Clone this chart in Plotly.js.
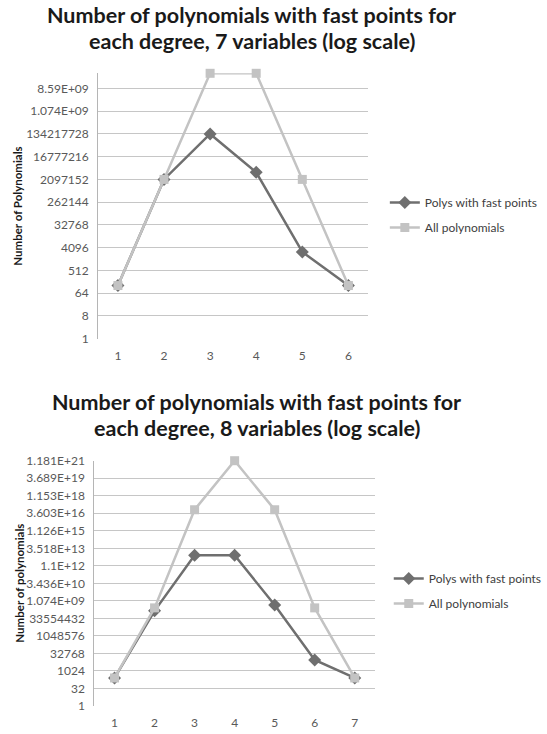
<!DOCTYPE html>
<html>
<head>
<meta charset="utf-8">
<script src="https://cdn.plot.ly/plotly-3.0.1.min.js"></script>
<style>html,body{margin:0;padding:0;background:#fff;}#chart{width:547px;height:734px;}</style>
</head>
<body>
<div id="chart"></div>
<script>
// ---- Data ----
const degrees7 = ["1", "2", "3", "4", "5", "6"];
const fast7 = [128, 2097152, 134217728, 4000000, 2760, 128];
const all7 = [128, 2097152, 34359738368, 34359738368, 2097152, 128];
const tickVals7 = [1, 8, 64, 512, 4096, 32768, 262144, 2097152, 16777216, 134217728, 1073741824, 8589934592];
const tickText7 = ["1", "8", "64", "512", "4096", "32768", "262144", "2097152", "16777216", "134217728", "1.074E+09", "8.59E+09"];

const degrees8 = ["1", "2", "3", "4", "5", "6", "7"];
const fast8 = [256, 150000000, 8.8e12, 8.8e12, 4.7e8, 9000, 256];
const all8 = [256, 268435456, 7.2057594e16, 1.1805916e21, 7.2057594e16, 268435456, 256];
const tickVals8 = [1, 32, 1024, 32768, 1048576, 33554432, 1073741824, 34359738368, 1.0995116e12, 3.5184372e13, 1.1258999e15, 3.6028797e16, 1.1529215e18, 3.6893488e19, 1.1805916e21];
const tickText8 = ["1", "32", "1024", "32768", "1048576", "33554432", "1.074E+09", "3.436E+10", "1.1E+12", "3.518E+13", "1.126E+15", "3.603E+16", "1.153E+18", "3.689E+19", "1.181E+21"];

const seriesNames = ["Polys with fast points", "All polynomials"];

// ---- Styling ----
const W = 547, H = 734;
const px = v => v / W;
const py = v => 1 - v / H;
const FONT = "Lato, 'Open Sans', sans-serif";
const darkCol = "#6f6f6f";
const lightCol = "#c3c3c3";
const gridCol = "#c6c6c6";
const tickCol = "#595959";

function series(x, y, i, xa, ya, leg, grp) {
  return {
    type: "scatter", mode: "lines+markers", x: x, y: y,
    name: seriesNames[i], xaxis: xa, yaxis: ya, legend: leg,
    legendgroup: grp + i, cliponaxis: false,
    line: {color: i === 0 ? darkCol : lightCol, width: 2.5},
    marker: i === 0 ? {symbol: "diamond", size: 10, color: darkCol}
                    : {symbol: "square", size: 9, color: lightCol}
  };
}

const data = [
  series(degrees7, fast7, 0, "x", "y", "legend", "a"),
  series(degrees7, all7, 1, "x", "y", "legend", "a"),
  series(degrees8, fast8, 0, "x2", "y2", "legend2", "b"),
  series(degrees8, all8, 1, "x2", "y2", "legend2", "b")
];

const xaxisBase = {
  type: "category", showgrid: false, zeroline: false,
  showline: false, ticks: "", ticklabelstandoff: 8,
  tickfont: {family: FONT, size: 12, color: tickCol}
};
const yaxisBase = {
  type: "log", tickmode: "array", showgrid: true, gridcolor: gridCol, gridwidth: 1,
  zeroline: false, showline: true, linecolor: "#b5b5b5", linewidth: 1, ticks: "",
  tickfont: {family: FONT, size: 12, color: tickCol}, ticklabelstandoff: 6
};

const legendBase = {
  font: {family: FONT, size: 12, color: "#404040"}, bgcolor: "rgba(0,0,0,0)",
  tracegroupgap: 6, xanchor: "left", yanchor: "middle", itemwidth: 30
};

function titleAnn(text, xc, ybase) {
  return {text: text, x: px(xc), y: py(ybase), xref: "paper", yref: "paper",
    xanchor: "center", yanchor: "middle", showarrow: false,
    font: {family: FONT, size: 21.5, color: "#1a1a1a", weight: "bold"}};
}
function yTitle(text, xc, yc) {
  return {text: text, x: px(xc), y: py(yc), xref: "paper", yref: "paper",
    xanchor: "center", yanchor: "middle", showarrow: false, textangle: -90,
    font: {family: FONT, size: 11.5, color: "#1a1a1a", weight: "bold"}};
}

const layout = {
  width: W, height: H, margin: {l: 0, r: 0, t: 0, b: 0},
  paper_bgcolor: "#fff", plot_bgcolor: "#fff",
  xaxis: Object.assign({}, xaxisBase, {domain: [px(100), px(375)], anchor: "y"}),
  yaxis: Object.assign({}, yaxisBase, {domain: [py(338.6), py(73.3)], anchor: "x",
    range: [0, 35 * Math.log10(2)], tickvals: tickVals7, ticktext: tickText7}),
  xaxis2: Object.assign({}, xaxisBase, {domain: [px(96), px(382)], anchor: "y2"}),
  yaxis2: Object.assign({}, yaxisBase, {domain: [py(706), py(460.7)], anchor: "x2",
    range: [0, 70 * Math.log10(2)], tickvals: tickVals8, ticktext: tickText8}),
  showlegend: true,
  legend: Object.assign({}, legendBase, {x: px(392), y: py(215)}),
  legend2: Object.assign({}, legendBase, {x: px(396), y: py(591)}),
  annotations: [
    titleAnn("Number of polynomials with fast points for", 256.5, 15),
    titleAnn("each degree, 7 variables (log scale)", 256.5, 41),
    titleAnn("Number of polynomials with fast points for", 261.5, 402),
    titleAnn("each degree, 8 variables (log scale)", 261.5, 428),
    yTitle("Number of Polynomials", 17, 206),
    yTitle("Number of polynomials", 19, 583)
  ]
};

Plotly.newPlot("chart", data, layout, {staticPlot: true, displayModeBar: false});
</script>
</body>
</html>
